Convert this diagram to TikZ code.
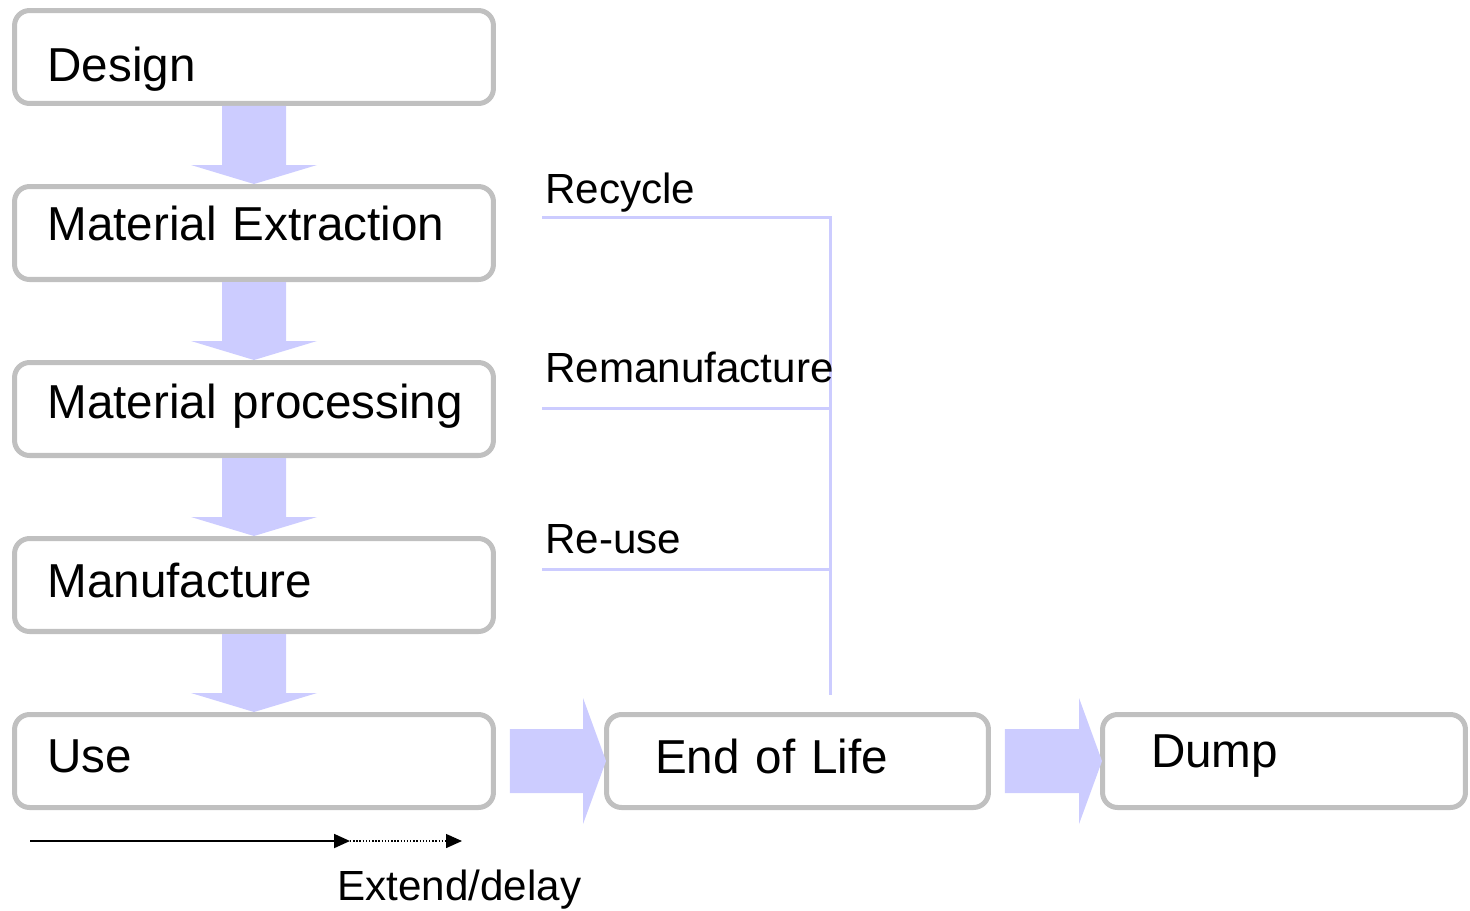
\documentclass[tikz,border=0pt]{standalone}
\usepackage{fontspec}
\setmainfont{Liberation Sans}
\usetikzlibrary{calc,arrows.meta}
\definecolor{boxgray}{HTML}{C0C0C0}
\definecolor{lilac}{HTML}{CCCCFF}
\tikzset{
  stage/.style={draw=boxgray,line width=2.85pt,rounded corners=0.3cm,fill=white,
    minimum height=1.86cm,inner xsep=0.66cm,align=left,
    font=\fontsize{27.1}{32}\selectfont},
  lift/.style={execute at end node={\par\vspace*{#1}}},
  tag/.style={anchor=base west,inner sep=0pt,font=\fontsize{24}{28}\selectfont},
  fat/.style={fill=lilac},
  feed/.style={draw=lilac,line width=1.7pt},
}
\begin{document}
\begin{tikzpicture}[x=0.02cm,y=-0.02cm]
    \useasboundingbox (0,0) rectangle (1470,910);
    \node[stage,text width=8.26cm,lift=-0.48cm] (design) at (254,57) {\raisebox{-0.28cm}{Design}};
    \node[stage,text width=8.26cm,lift=0.4cm] (extract) at (254,233) {Material Extraction};
    \node[stage,text width=8.26cm,lift=0.1cm] (process) at (254,409) {\mbox{Material processing}};
    \node[stage,text width=8.26cm,lift=0.2cm] (manuf) at (254,585) {Manufacture};
    \node[stage,text width=8.26cm,lift=0.2cm] (use) at (254,761) {Use};
    \node[stage,text width=5.7cm,inner xsep=0.97cm,lift=0.2cm] (eol) at (797.5,761) {End of Life};
    \node[stage,text width=5.32cm,inner xsep=0.97cm,lift=0.2cm] (dump) at (1284,761) {Dump};
    % fat arrows
    \foreach \a/\b in {design/extract,extract/process,process/manuf,manuf/use}
      \fill[fat] ($(\a.south)+(-32,0)$) -- ($(\b.north)+(-32,-19)$) -- ($(\b.north)+(-63,-19)$)
        -- (\b.north) -- ($(\b.north)+(63,-19)$) -- ($(\b.north)+(32,-19)$) -- ($(\a.south)+(32,0)$) -- cycle;
    \foreach \a/\b in {use/eol,eol/dump}
      \fill[fat] ($(\a.east)+(14,-32)$) -- ($(\b.west)+(-21,-32)$) -- ($(\b.west)+(-21,-63)$)
        -- ($(\b.west)+(2,0)$) -- ($(\b.west)+(-21,63)$) -- ($(\b.west)+(-21,32)$) -- ($(\a.east)+(14,32)$) -- cycle;
    % loops back
    \coordinate (busT) at (830,217);
    \coordinate (busB) at (830,695);
    \coordinate (recL) at (542,217);
    \coordinate (remL) at (542,408);
    \coordinate (reuL) at (542,569);
    \draw[feed] (recL) -- (busT) -- (busB);
    \draw[feed] (remL) -- (remL -| busT);
    \draw[feed] (reuL) -- (reuL -| busT);
    \node[tag] (recycle) at (545,203) {Recycle};
    \node[tag] (reman) at (545,382) {Remanufacture};
    \node[tag] (reuse) at (545,553) {Re-use};
    % time line
    \coordinate (t0) at (30,841);
    \coordinate (t1) at (350,841);
    \coordinate (t2) at (462,841);
    \draw[line width=1.1pt,-{Triangle[length=0.32cm,width=0.28cm]}] (t0) -- (t1);
    \draw[line width=0.8pt,densely dotted,-{Triangle[length=0.32cm,width=0.28cm]}] (t1) -- (t2);
    \node[tag] (extend) at (337,900) {Extend/delay};
\end{tikzpicture}
\end{document}
